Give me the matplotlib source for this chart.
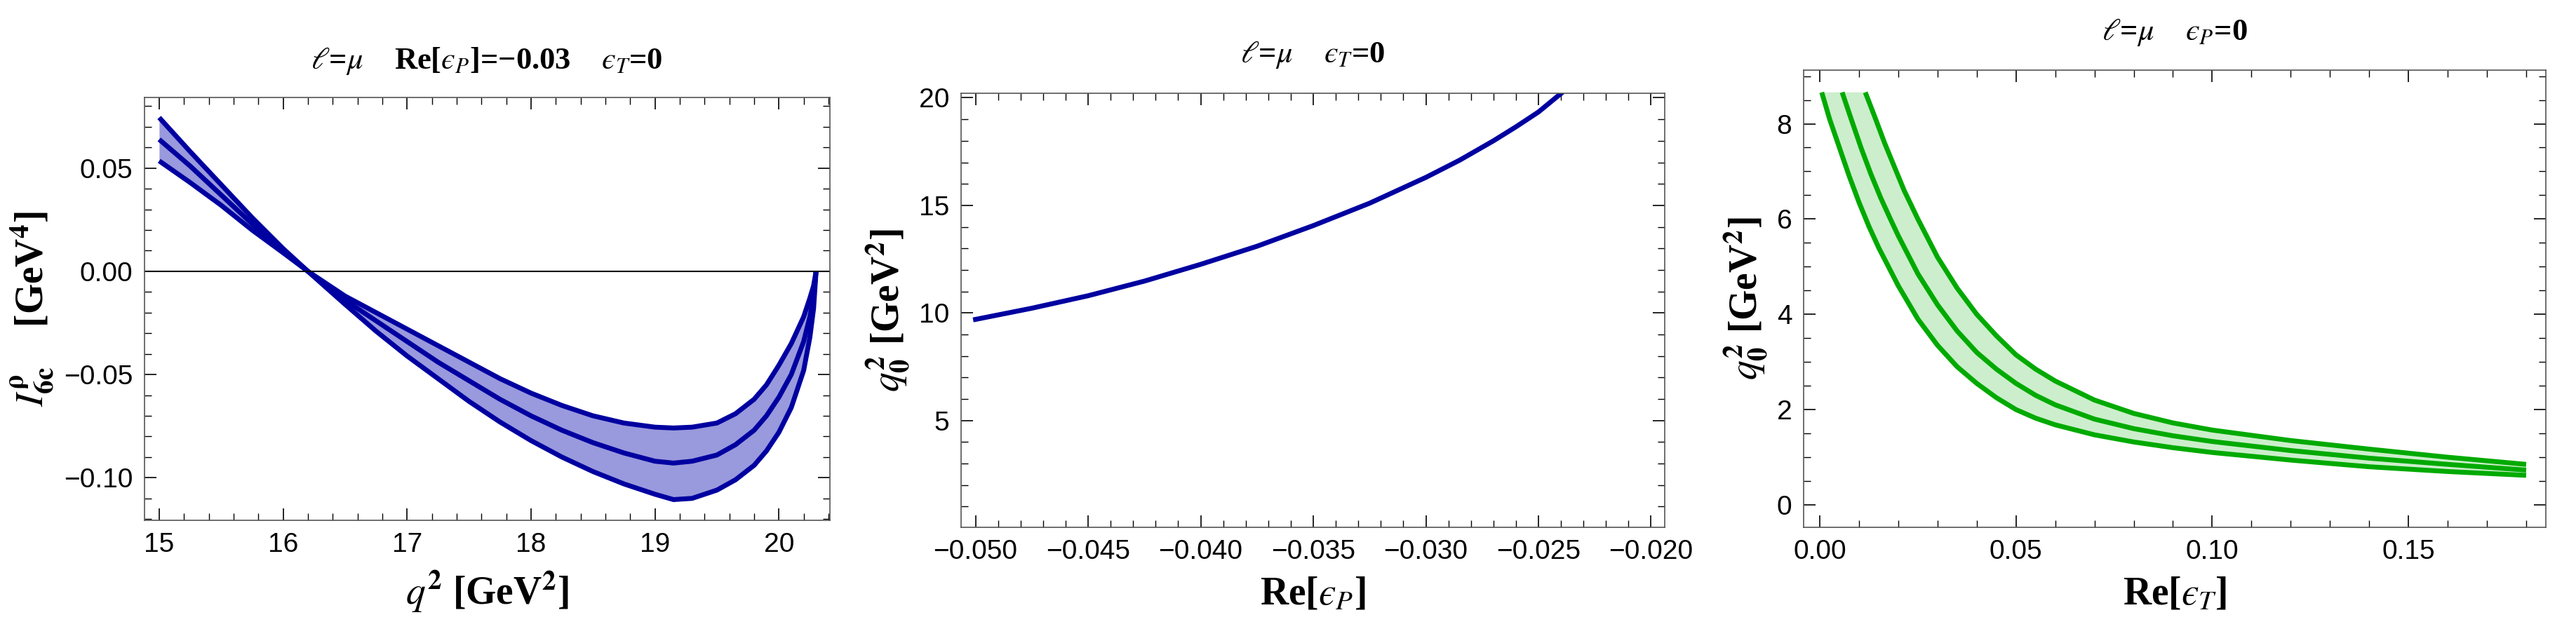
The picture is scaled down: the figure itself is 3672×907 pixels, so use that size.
import matplotlib
matplotlib.use("Agg")
import matplotlib.pyplot as plt
from matplotlib.ticker import MultipleLocator, FuncFormatter

plt.rcParams['mathtext.fontset'] = 'stix'
plt.rcParams['font.family'] = ['Liberation Sans', 'DejaVu Sans']

# Panel 1 data
q2 = [15.0, 15.25, 15.5, 15.75, 16.0, 16.2, 16.5, 16.75, 17.0, 17.25, 17.5, 17.75, 18.0, 18.25, 18.5, 18.75,
      19.0, 19.15, 19.3, 19.5, 19.65, 19.8, 19.9, 20.0, 20.1, 20.2, 20.25, 20.28, 20.3]
I_up = [0.0745, 0.058, 0.042, 0.026, 0.011, 0.0, -0.012, -0.020, -0.028, -0.036, -0.044, -0.052, -0.059, -0.065,
        -0.070, -0.0735, -0.0755, -0.0759, -0.0755, -0.0735, -0.069, -0.062, -0.055, -0.0455, -0.035, -0.022,
        -0.013, -0.007, 0.0]
I_mid = [0.0639, 0.051, 0.037, 0.023, 0.010, 0.0, -0.014, -0.024, -0.034, -0.044, -0.053, -0.062, -0.070, -0.077,
         -0.083, -0.088, -0.0920, -0.0929, -0.092, -0.089, -0.084, -0.077, -0.070, -0.061, -0.050, -0.034,
         -0.022, -0.012, 0.0]
I_lo = [0.0535, 0.043, 0.032, 0.020, 0.009, 0.0, -0.016, -0.029, -0.041, -0.052, -0.063, -0.073, -0.082, -0.090,
        -0.097, -0.103, -0.108, -0.1106, -0.110, -0.106, -0.101, -0.094, -0.087, -0.078, -0.066, -0.048,
        -0.032, -0.018, 0.0]

# Panel 2 data
epsP = [-0.050, -0.0475, -0.045, -0.0425, -0.040, -0.0375, -0.035, -0.0325, -0.030, -0.0285, -0.027, -0.026, -0.025, -0.024]
q0_P = [9.7, 10.22, 10.8, 11.48, 12.26, 13.1, 14.06, 15.1, 16.3, 17.1, 18.0, 18.65, 19.34, 20.2]

# Panel 3 data
eT_lo = [0.0005, 0.0025, 0.005, 0.0075, 0.01, 0.0125, 0.015, 0.0175, 0.02, 0.025, 0.03, 0.035, 0.04, 0.045,
         0.05, 0.055, 0.06, 0.07, 0.08, 0.09, 0.10, 0.12, 0.14, 0.16, 0.18]
q0_lo = [8.66, 8.1, 7.5, 6.9, 6.35, 5.85, 5.4, 5.0, 4.6, 3.9, 3.35, 2.9, 2.55, 2.25,
         2.0, 1.82, 1.68, 1.47, 1.32, 1.2, 1.1, 0.94, 0.8, 0.7, 0.62]
eT_mid = [0.0057, 0.008, 0.0105, 0.013, 0.0155, 0.018, 0.02, 0.025, 0.03, 0.035, 0.04, 0.045, 0.05, 0.055,
          0.06, 0.07, 0.08, 0.09, 0.10, 0.12, 0.14, 0.16, 0.18]
q0_mid = [8.66, 8.1, 7.5, 6.95, 6.45, 6.0, 5.65, 4.85, 4.2, 3.65, 3.2, 2.85, 2.55, 2.3,
          2.1, 1.8, 1.6, 1.45, 1.33, 1.14, 0.98, 0.85, 0.73]
eT_up = [0.0116, 0.014, 0.0165, 0.019, 0.0215, 0.025, 0.03, 0.035, 0.04, 0.045, 0.05, 0.055, 0.06, 0.07,
         0.08, 0.09, 0.10, 0.12, 0.14, 0.16, 0.18]
q0_up = [8.66, 8.15, 7.6, 7.1, 6.6, 6.0, 5.2, 4.55, 4.0, 3.55, 3.15, 2.85, 2.6, 2.2,
         1.92, 1.72, 1.57, 1.35, 1.17, 1.0, 0.85]

blue = '#0000a0'
green = '#00aa00'
serif = ['Liberation Serif', 'DejaVu Serif']
tickfam = ['Liberation Sans Narrow', 'Liberation Sans', 'DejaVu Sans']

fig = plt.figure(figsize=(36.73, 9.07), dpi=100)
ax1 = fig.add_axes([0.056, 0.182, 0.266, 0.665])
ax2 = fig.add_axes([0.373, 0.171, 0.273, 0.682])
ax3 = fig.add_axes([0.700, 0.171, 0.288, 0.719])

def fmt(d):
    return FuncFormatter(lambda v, p: (f'{v:.{d}f}').replace('-', '\u2212'))

def style(ax):
    ax.tick_params(which='both', direction='in', top=True, right=True, labelsize=28, pad=12)
    ax.tick_params(which='major', length=12, width=1.2)
    ax.tick_params(which='minor', length=7, width=1.0)
    for s in ax.spines.values():
        s.set_color('#555555')
        s.set_linewidth(1.2)

# Panel 1
ax1.fill_between(q2, I_lo, I_up, color='#9999dd', lw=0)
for y in (I_up, I_mid, I_lo):
    ax1.plot(q2, y, color=blue, lw=5, solid_capstyle='butt')
ax1.axhline(0, color='black', lw=1.5)
ax1.set_xlim(14.88, 20.41)
ax1.set_ylim(-0.1206, 0.0843)
ax1.xaxis.set_major_locator(MultipleLocator(1))
ax1.xaxis.set_minor_locator(MultipleLocator(0.2))
ax1.yaxis.set_major_locator(MultipleLocator(0.05))
ax1.yaxis.set_minor_locator(MultipleLocator(0.01))
ax1.yaxis.set_major_formatter(fmt(2))
style(ax1)
ax1.set_xlabel(r'$\mathbf{\mathit{q}^2}$ [GeV$^\mathbf{2}$]', fontsize=40, family=serif, weight='bold', labelpad=12)
ax1.set_ylabel(r'$\mathbf{\mathit{I}^{\rho}_{6c}}$    [GeV$^\mathbf{4}$]', fontsize=40, family=serif, weight='bold', labelpad=8)

# Panel 2
ax2.plot(epsP, q0_P, color=blue, lw=5)
ax2.set_xlim(-0.05064, -0.0194)
ax2.set_ylim(0.04, 20.2)
ax2.xaxis.set_major_locator(MultipleLocator(0.005))
ax2.xaxis.set_minor_locator(MultipleLocator(0.001))
ax2.yaxis.set_minor_locator(MultipleLocator(1))
ax2.set_yticks([5, 10, 15, 20])
ax2.xaxis.set_major_formatter(fmt(3))
style(ax2)
ax2.set_xlabel(r'Re[$ϵ_P$]', fontsize=40, family=serif, weight='bold', labelpad=12)
ax2.set_ylabel(r'$\mathit{q}_\mathbf{0}^\mathbf{2}$ [GeV$^\mathbf{2}$]', fontsize=40, family=serif, weight='bold', labelpad=8)

# Panel 3
poly_x = eT_lo + eT_up[::-1]
poly_y = q0_lo + q0_up[::-1]
ax3.fill(poly_x, poly_y, color='#cceecc', lw=0)
for x, y in ((eT_lo, q0_lo), (eT_mid, q0_mid), (eT_up, q0_up)):
    ax3.plot(x, y, color=green, lw=5, solid_capstyle='butt')
ax3.set_xlim(-0.0041, 0.185)
ax3.set_ylim(-0.47, 9.13)
ax3.xaxis.set_major_locator(MultipleLocator(0.05))
ax3.xaxis.set_minor_locator(MultipleLocator(0.01))
ax3.yaxis.set_major_locator(MultipleLocator(2))
ax3.yaxis.set_minor_locator(MultipleLocator(0.5))
ax3.xaxis.set_major_formatter(fmt(2))
style(ax3)
ax3.set_xlabel(r'Re[$ϵ_T$]', fontsize=40, family=serif, weight='bold', labelpad=12)
ax3.set_ylabel(r'$\mathit{q}_\mathbf{0}^\mathbf{2}$ [GeV$^\mathbf{2}$]', fontsize=40, family=serif, weight='bold', labelpad=8)

# Titles
tkw = dict(fontsize=32, family=serif, weight='bold', ha='center', va='center')
fig.text(0.189, 0.904, r'$\ell$=$\mu$    Re[$ϵ_P$]=−0.03    $ϵ_T$=0', **tkw)
fig.text(0.5095, 0.914, r'$\ell$=$\mu$    $ϵ_T$=0', **tkw)
fig.text(0.844, 0.949, r'$\ell$=$\mu$    $ϵ_P$=0', **tkw)

for ax in (ax1, ax2, ax3):
    for lab in ax.get_xticklabels() + ax.get_yticklabels():
        lab.set_family(tickfam)

fig.savefig('out.png', dpi=100)
